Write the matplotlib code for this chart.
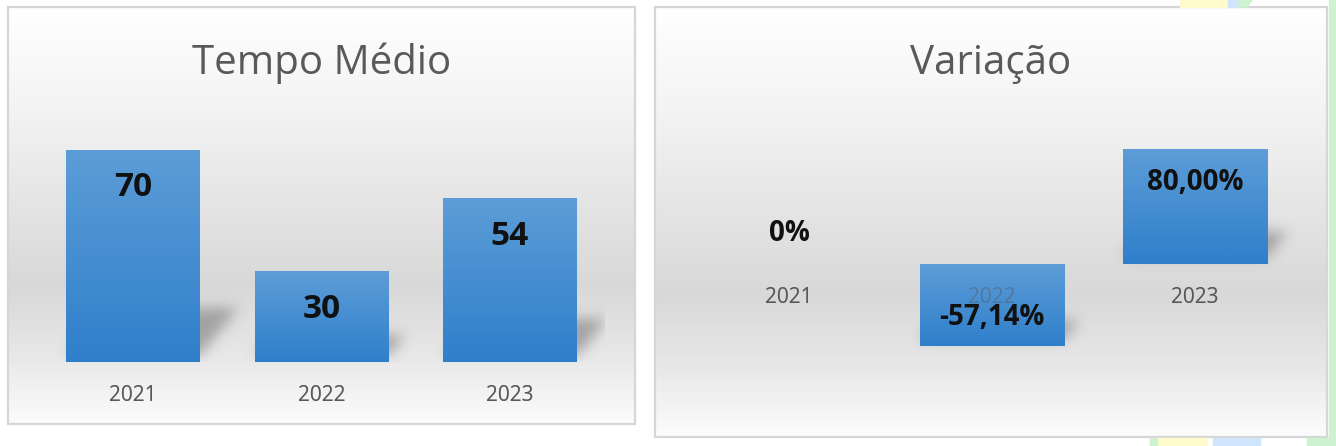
import numpy as np
import matplotlib
matplotlib.use('Agg')
import matplotlib.pyplot as plt
from matplotlib.colors import LinearSegmentedColormap
from matplotlib.patches import Rectangle, Polygon

plt.rcParams['font.family'] = ['Open Sans', 'DejaVu Sans']

anos = ['2021', '2022', '2023']
tempo_medio = [70, 30, 54]
rotulos_tempo = ['70', '30', '54']
variacao = [0.0, -57.14, 80.00]
rotulos_variacao = ['0%', '-57,14%', '80,00%']

W, H = 1336, 446
CINZA_TEXTO = '#595959'

fig = plt.figure(figsize=(W / 100, H / 100), dpi=100)
fig.patch.set_facecolor('white')


def px(x0, y0, x1, y1):
    # retangulo em pixels (origem no topo) -> coords da figura
    return [x0 / W, 1 - y1 / H, (x1 - x0) / W, (y1 - y0) / H]


fundo_cmap = LinearSegmentedColormap.from_list('fundo', [
    (0.0, '#ffffff'), (0.25, '#f3f3f3'), (0.5, '#e3e3e3'),
    (0.67, '#d8d8d8'), (0.85, '#e9e9e9'), (1.0, '#fcfcfc')])
barra_cmap = LinearSegmentedColormap.from_list('barra', ['#5d9dd7', '#2f7fcb'])
gradiente = np.linspace(0, 1, 256).reshape(-1, 1)


# enfeites verde/amarelo/azul do slide, no canto direito
def enfeites():
    cores = [((1180, 0, 1228, 7), '#fffbcc'), ((1228, 0, 1240, 7), '#cfe5fb'),
             ((1158, 438, 1207, 446), '#fffbcc'), ((1213, 438, 1260, 446), '#cfe5fb'),
             ((1150, 438, 1157, 446), '#cdf2cf'), ((1307, 438, 1336, 446), '#cdf2cf'),
             ((1329, 0, 1336, 446), '#cdf2cf')]
    for (x0, y0, x1, y1), c in cores:
        fig.patches.append(Rectangle((x0 / W, 1 - y1 / H), (x1 - x0) / W, (y1 - y0) / H,
                                     transform=fig.transFigure, color=c, zorder=0))
    fig.patches.append(Polygon([(1240 / W, 1), (1252 / W, 1), (1247 / W, 1 - 7 / H), (1237 / W, 1 - 7 / H)],
                               closed=True, transform=fig.transFigure, color='#cdf2cf', zorder=0))


def painel(rect, titulo):
    fundo = fig.add_axes(px(*rect), zorder=0)
    fundo.imshow(gradiente, cmap=fundo_cmap, aspect='auto', extent=[0, 1, 0, 1], vmin=0, vmax=1)
    fundo.set_axis_off()
    fundo.add_patch(Rectangle((0, 0), 1, 1, transform=fundo.transAxes, fill=False,
                              edgecolor='#d6d6d6', lw=1.6, clip_on=False))
    xc = (rect[0] + rect[2]) / 2
    fig.text(xc / W, 1 - 74 / H, titulo, ha='center', va='baseline', fontsize=29, color=CINZA_TEXTO)


def sombra(ax, barras):
    bb = ax.bbox
    nx, ny = int(bb.width), int(bb.height)
    yy, xx = np.mgrid[0:ny, 0:nx] + 0.5
    alfa = np.zeros((ny, nx))
    for b in barras:
        cantos = ax.transData.transform([(b.get_x(), b.get_y()),
                                         (b.get_x() + b.get_width(), b.get_y() + b.get_height())])
        cantos = cantos - [bb.x0, bb.y0]
        x0, x1 = cantos[:, 0]
        base, topo = cantos[:, 1].min(), cantos[:, 1].max()
        hs = 0.22 * (topo - base)
        if hs < 1:
            continue
        b0 = base + 7
        t = (yy - b0) / hs
        dentro = (t >= 0) & (t <= 1) & (xx >= x0 + 0.8 * t * hs) & (xx <= x1 + 0.8 * t * hs)
        alfa[dentro] = 0.42
    k = np.exp(-0.5 * (np.arange(-20, 21) / 6.5) ** 2)
    k /= k.sum()
    alfa = np.apply_along_axis(lambda r: np.convolve(r, k, mode='same'), 1, alfa)
    alfa = np.apply_along_axis(lambda c: np.convolve(c, k, mode='same'), 0, alfa)
    img = np.zeros((ny, nx, 4))
    img[..., :3] = 0.3
    img[..., 3] = alfa
    ax.imshow(img, origin='lower', extent=[*ax.get_xlim(), *ax.get_ylim()],
              aspect='auto', zorder=1, interpolation='bilinear')


def grafico(rect, ylim, valores, rotulos, tam_rotulo, deslocamento):
    ax = fig.add_axes(px(*rect), zorder=1)
    ax.set_facecolor('none')
    ax.set_xlim(-0.5, 2.5)
    ax.set_ylim(*ylim)
    barras = ax.bar(range(len(anos)), valores, width=0.71, color='#4a8fd2', zorder=2)
    for b in barras:
        if b.get_height() == 0:
            continue
        x0, y0 = b.get_x(), b.get_y()
        x1, y1 = x0 + b.get_width(), y0 + b.get_height()
        im = ax.imshow(gradiente, cmap=barra_cmap, aspect='auto', vmin=0, vmax=1,
                       extent=[x0, x1, min(y0, y1), max(y0, y1)], zorder=2.1)
        im.set_clip_path(b)
    sombra(ax, barras)
    ax.set_xlim(-0.5, 2.5)
    ax.set_ylim(*ylim)
    # rotulos de categoria junto ao eixo (em baixo e, esmaecidos, sobre as barras)
    for i, ano in enumerate(anos):
        for z, a in ((1.5, 1.0), (3, 0.45)):
            ax.annotate(ano, xy=(i, 0), xytext=(0, -24.2), textcoords='offset points',
                        ha='center', va='center', fontsize=15, color=CINZA_TEXTO,
                        alpha=a, zorder=z, annotation_clip=False)
    for i, (v, r) in enumerate(zip(valores, rotulos)):
        ax.annotate(r, xy=(i, v), xytext=(0, deslocamento(v)), textcoords='offset points',
                    ha='center', va='center', fontsize=tam_rotulo, fontweight='bold',
                    color='#111111', zorder=4)
    ax.set_xticks([])
    ax.set_yticks([])
    for s in ax.spines.values():
        s.set_color('none')
    return ax


enfeites()
painel((8, 7, 635, 424), 'Tempo Médio')
painel((655, 7, 1327, 437), 'Variação')

grafico((38.75, 119.6, 604.25, 362), (0, 80), tempo_medio, rotulos_tempo, 24,
        lambda v: -27.4)
grafico((687.5, 120.25, 1296.5, 379), (-80, 100), variacao, rotulos_variacao, 20,
        lambda v: -23.8 if v > 0 else (22.3 if v == 0 else 20.9))

fig.savefig('out.png', dpi=100, facecolor='white')
